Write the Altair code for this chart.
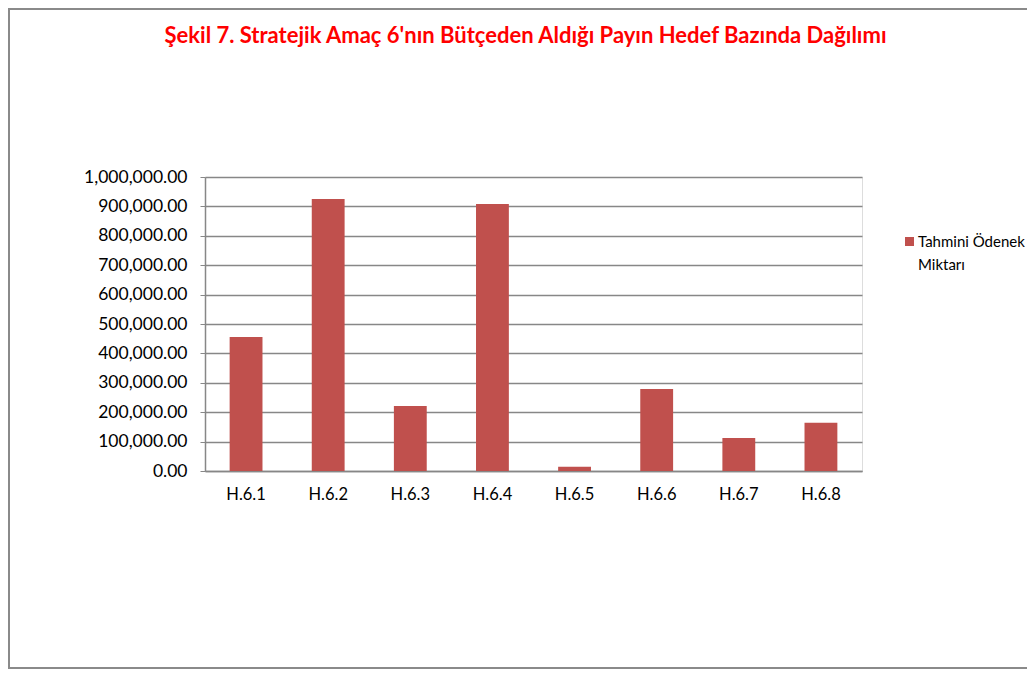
import altair as alt
import pandas as pd

categories = ["H.6.1", "H.6.2", "H.6.3", "H.6.4", "H.6.5", "H.6.6", "H.6.7", "H.6.8"]
values = [456000, 925000, 221000, 908000, 14500, 279000, 112000, 164000]
series_name = "Tahmini Ödenek Miktarı"
title_text = "Şekil 7. Stratejik Amaç 6'nın Bütçeden Aldığı Payın Hedef Bazında Dağılımı"
y_ticks = [0, 100000, 200000, 300000, 400000, 500000, 600000, 700000, 800000, 900000, 1000000]

FONT = "Lato"
BAR = "#C0504D"
GRID = "#878787"

df = pd.DataFrame({"hedef": categories, "miktar": values, "seri": series_name})
one = pd.DataFrame({"k": [0]})

W, H = 657, 294

bars = alt.Chart(df).mark_bar(color=BAR).encode(
    x=alt.X("hedef:N", sort=categories, title=None,
            scale=alt.Scale(paddingInner=0.6, paddingOuter=0.3),
            axis=alt.Axis(labelAngle=0, labelFontSize=16.5, labelFont=FONT, labelColor="#000",
                          labelPadding=15, ticks=False, domainColor=GRID, domainWidth=1.5)),
    y=alt.Y("miktar:Q", title=None,
            scale=alt.Scale(domain=[0, 1000000], nice=False),
            axis=alt.Axis(values=y_ticks, format=",.2f", labelFontSize=17.5, labelFont=FONT,
                          labelColor="#000", labelPadding=13, tickSize=5, tickColor=GRID,
                          domainColor=GRID, domainWidth=1.5, gridColor=GRID, gridWidth=1.5)),
)

frame = alt.Chart(one).mark_rect(fillOpacity=0, stroke="#8a8a8a", strokeWidth=2).encode(
    x=alt.value(-196), x2=alt.value(830), y=alt.value(-168), y2=alt.value(491)
)

title = alt.Chart(one).mark_text(
    text=title_text, font=FONT, fontSize=22, fontWeight="bold", color="#FF0000",
    align="center", baseline="middle"
).encode(x=alt.value(320.5), y=alt.value(-141))

leg_sq = alt.Chart(one).mark_rect(color=BAR).encode(
    x=alt.value(700), x2=alt.value(709), y=alt.value(60), y2=alt.value(69)
)

leg_txt = alt.Chart(one).mark_text(
    text=["Tahmini Ödenek", "Miktarı"], font=FONT, fontSize=15, color="#000",
    align="left", baseline="middle", lineHeight=23
).encode(x=alt.value(713), y=alt.value(65))

chart = alt.layer(frame, bars, title, leg_sq, leg_txt).properties(
    width=W, height=H,
    autosize=alt.AutoSizeParams(type="none"),
    padding={"left": 197, "top": 169, "right": 165, "bottom": 198},
).configure_view(stroke=None).configure(background="white")

chart.save("out.html", embed_options={"renderer": "svg", "actions": False})
